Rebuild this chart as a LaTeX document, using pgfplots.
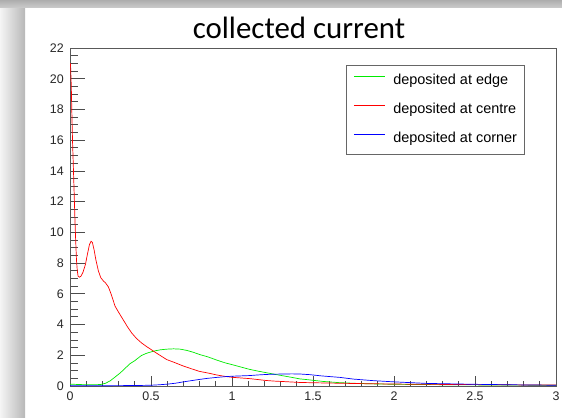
\documentclass[border=0pt]{standalone}
\usepackage{pgfplots}
\pgfplotsset{compat=1.18}
\usepackage{fontspec}
\setmainfont{Liberation Sans}
\newfontfamily\titlefont{Carlito}
\definecolor{rootgreen}{RGB}{0,235,0}
\definecolor{rootred}{RGB}{255,0,0}
\definecolor{rootblue}{RGB}{0,0,255}
\definecolor{labelgray}{RGB}{40,40,40}
\pgfplotstableread{
x y
0.003 21.0
0.008 19.5
0.012 17.5
0.016 15.8
0.020 14.5
0.025 12.8
0.030 11.0
0.035 9.5
0.040 8.2
0.045 7.5
0.050 7.15
0.058 7.08
0.068 7.15
0.080 7.4
0.095 7.9
0.108 8.6
0.120 9.2
0.130 9.42
0.138 9.35
0.148 8.9
0.160 8.2
0.175 7.5
0.190 7.05
0.205 6.85
0.220 6.7
0.237 6.45
0.255 5.95
0.278 5.2
0.300 4.8
0.329 4.30
0.355 3.85
0.381 3.45
0.410 3.1
0.442 2.8
0.475 2.55
0.500 2.38
0.540 2.1
0.597 1.72
0.640 1.55
0.700 1.3
0.750 1.12
0.800 0.95
0.850 0.85
0.905 0.72
0.960 0.62
1.008 0.56
1.060 0.52
1.110 0.48
1.160 0.42
1.210 0.36
1.260 0.32
1.317 0.29
1.420 0.23
1.560 0.20
1.770 0.16
1.980 0.13
2.200 0.11
2.500 0.09
2.800 0.07
3.000 0.06
}\centretab
\pgfplotstableread{
x y
0.00 0.12
0.05 0.10
0.10 0.08
0.15 0.08
0.19 0.10
0.22 0.18
0.25 0.35
0.28 0.60
0.31 0.85
0.34 1.15
0.37 1.45
0.40 1.65
0.44 1.98
0.47 2.12
0.50 2.22
0.53 2.30
0.56 2.36
0.60 2.40
0.64 2.42
0.68 2.40
0.72 2.32
0.76 2.20
0.80 2.05
0.85 1.90
0.905 1.69
0.96 1.50
1.008 1.37
1.06 1.22
1.11 1.08
1.16 0.97
1.21 0.87
1.26 0.77
1.317 0.66
1.37 0.56
1.42 0.46
1.46 0.42
1.56 0.30
1.66 0.22
1.77 0.17
1.90 0.13
2.10 0.10
2.40 0.08
2.70 0.06
3.00 0.05
}\edgetab
\pgfplotstableread{
x y
0.00 0.02
0.20 0.02
0.40 0.03
0.50 0.05
0.55 0.08
0.60 0.12
0.65 0.18
0.70 0.27
0.75 0.35
0.80 0.43
0.85 0.50
0.905 0.56
0.96 0.61
1.008 0.64
1.06 0.66
1.11 0.68
1.16 0.72
1.21 0.75
1.26 0.77
1.317 0.78
1.37 0.79
1.42 0.78
1.48 0.74
1.55 0.66
1.62 0.60
1.667 0.56
1.75 0.45
1.87 0.35
2.00 0.27
2.10 0.22
2.20 0.17
2.35 0.14
2.50 0.11
2.65 0.09
2.80 0.07
3.00 0.05
}\cornertab
\begin{document}
\begin{tikzpicture}[x=1bp,y=1bp]
\path[use as bounding box] (0,0) rectangle (562,417);
\fill[white] (0,0) rectangle (562,417);
\shade[left color=black!4, right color=black!28] (0,0) rectangle (25,417);
\shade[top color=black!32, bottom color=black!20] (0,409) rectangle (562,417);
\node[font=\titlefont\fontsize{31}{31}\selectfont, anchor=base, inner sep=0pt] at (299,378.5) {collected current};
\begin{axis}[
  at={(70bp,31bp)}, anchor=south west,
  width=486bp, height=338bp, scale only axis,
  xmin=0, xmax=3, ymin=0, ymax=22,
  xtick={0,0.5,...,3}, ytick={0,2,...,22},
  minor x tick num=4, minor y tick num=3,
  tick pos=left, tick align=inside,
  major tick length=10bp, minor tick length=5bp,
  ytick style={/pgfplots/major tick length=15bp, /pgfplots/minor tick length=7.5bp},
  axis line style={black!65, line width=0.8bp},
  tick style={black!70, line width=0.8bp},
  /pgf/number format/assume math mode=true,
  ticklabel style={font=\fontsize{12.5}{14}\selectfont, text=labelgray},
  xticklabel style={yshift=-2bp},
  yticklabel style={xshift=-2.7bp},
  legend style={at={(0.568,0.95)}, anchor=north west, draw=black!60, line width=0.6bp,
    inner xsep=7bp, inner ysep=9bp, font=\fontsize{14.5}{16}\selectfont,
    row sep=15.5bp, column sep=8bp,
    nodes={inner sep=0pt, text height=10.5bp, text depth=3bp}},
  legend cell align=left,
  legend image code/.code={\draw[#1, line width=1bp] (0bp,4.5bp) -- (31bp,4.5bp);},
]
\addplot[color=rootgreen, line width=0.7bp] table[x=x,y=y] {\edgetab};
\addlegendentry{deposited at edge\hspace{9bp}}
\addplot[color=rootred, line width=0.7bp] table[x=x,y=y] {\centretab};
\addlegendentry{deposited at centre\hspace{9bp}}
\addplot[color=rootblue, line width=0.7bp] table[x=x,y=y] {\cornertab};
\addlegendentry{deposited at corner\hspace{9bp}}
\node[anchor=base east, rotate=90, inner sep=0pt, font=\fontsize{12.5}{14}\selectfont, text=labelgray] at ([xshift=-30bp]rel axis cs:0,1) {fC/ns};
\node[anchor=base east, inner sep=0pt, font=\fontsize{12.5}{14}\selectfont, text=labelgray] at ([yshift=-29bp]rel axis cs:1,0) {ns};
\end{axis}
\end{tikzpicture}
\end{document}
